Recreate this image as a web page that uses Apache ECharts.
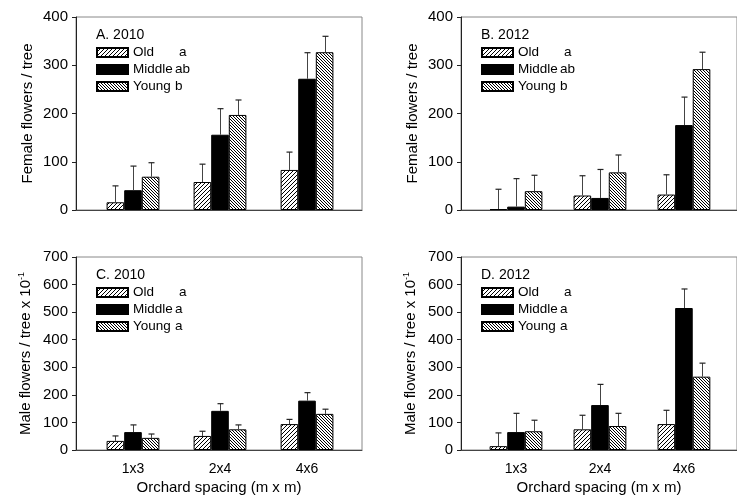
<!DOCTYPE html>
<html><head><meta charset="utf-8">
<script src="https://cdn.jsdelivr.net/npm/echarts@6/dist/echarts.min.js"></script>
<style>html,body{margin:0;padding:0;background:#fff}#c{width:737px;height:501px}</style>
</head><body><div id="c"></div>
<script>
// ---- data ----
const categories = ['1x3', '2x4', '4x6'];
const groups = ['Old', 'Middle', 'Young'];
// Panel A: Female flowers 2010
const femaleOld2010 = [16, 58, 83];
const femaleMiddle2010 = [41, 156, 272];
const femaleYoung2010 = [69, 197, 327];
const femaleOld2010SE = [34, 37, 37];
const femaleMiddle2010SE = [50, 54, 54];
const femaleYoung2010SE = [29, 31, 33];
// Panel B: Female flowers 2012
const femaleOld2012 = [2, 30, 32];
const femaleMiddle2012 = [7, 25, 176];
const femaleYoung2012 = [39, 78, 292];
const femaleOld2012SE = [41, 41, 41];
const femaleMiddle2012SE = [58, 59, 58];
const femaleYoung2012SE = [33, 36, 35];
// Panel C: Male flowers 2010 (x 10^-1)
const maleOld2010 = [33, 51, 94];
const maleMiddle2010 = [65, 142, 179];
const maleYoung2010 = [44, 75, 131];
const maleOld2010SE = [18, 17, 17];
const maleMiddle2010SE = [26, 26, 29];
const maleYoung2010SE = [14, 16, 17];
// Panel D: Male flowers 2012 (x 10^-1)
const maleOld2012 = [14, 75, 94];
const maleMiddle2012 = [65, 163, 515];
const maleYoung2012 = [68, 87, 266];
const maleOld2012SE = [48, 51, 50];
const maleMiddle2012SE = [68, 75, 69];
const maleYoung2012SE = [40, 46, 49];
// tick labels / texts
const femaleTicks = [0, 100, 200, 300, 400];
const maleTicks = [0, 100, 200, 300, 400, 500, 600, 700];
const panelTitles = ['A. 2010', 'B. 2012', 'C. 2010', 'D. 2012'];
const panelLetters = [['a', 'ab', 'b'], ['a', 'ab', 'b'], ['a', 'a', 'a'], ['a', 'a', 'a']];

// ---- styling ----
function makePattern(dir, size) {
  const c = document.createElement('canvas');
  c.width = size; c.height = size;
  const ctx = c.getContext('2d');
  ctx.fillStyle = '#fff'; ctx.fillRect(0, 0, size, size);
  ctx.fillStyle = '#000';
  for (let i = 0; i < size; i++) {
    const y = dir === '/' ? size - 1 - i : i;
    ctx.fillRect(i, y, 1, 1);
  }
  return { image: c, repeat: 'repeat' };
}
const fills = [makePattern('/', 4), '#000', makePattern('\\', 3)];
const FONT = 'Liberation Sans, Arial, sans-serif';
const BARW = 17.6;

const panels = [
  { vals: [femaleOld2010, femaleMiddle2010, femaleYoung2010], se: [femaleOld2010SE, femaleMiddle2010SE, femaleYoung2010SE], ticks: femaleTicks, left: 76, top: 17, bottomRow: false, yname: 'Female flowers / tree' },
  { vals: [femaleOld2012, femaleMiddle2012, femaleYoung2012], se: [femaleOld2012SE, femaleMiddle2012SE, femaleYoung2012SE], ticks: femaleTicks, left: 461, top: 17, bottomRow: false, yname: 'Female flowers / tree' },
  { vals: [maleOld2010, maleMiddle2010, maleYoung2010], se: [maleOld2010SE, maleMiddle2010SE, maleYoung2010SE], ticks: maleTicks, left: 76, top: 257, bottomRow: true, yname: 'Male flowers / tree x 10{s|-1}' },
  { vals: [maleOld2012, maleMiddle2012, maleYoung2012], se: [maleOld2012SE, maleMiddle2012SE, maleYoung2012SE], ticks: maleTicks, left: 461, top: 257, bottomRow: true, yname: 'Male flowers / tree x 10{s|-1}' }
];

const option = { animation: false, backgroundColor: '#fff', grid: [], xAxis: [], yAxis: [], series: [], title: [], legend: [] };

panels.forEach((p, pi) => {
  option.grid.push({ left: p.left, top: p.top, width: 286, height: 193, show: true, borderColor: '#888', borderWidth: 1, backgroundColor: 'transparent' });
  option.xAxis.push({
    type: 'value', gridIndex: pi, min: -0.655, max: 2.632,
    axisLine: { show: true, onZero: false, lineStyle: { color: '#444', width: 1 } },
    axisTick: { show: false }, splitLine: { show: false },
    axisLabel: {
      show: p.bottomRow, customValues: [0, 1, 2], formatter: v => categories[Math.round(v)],
      color: '#000', fontFamily: FONT, fontSize: 14, margin: 12
    },
    name: p.bottomRow ? 'Orchard spacing (m x m)' : '', nameLocation: 'middle', nameGap: 30,
    nameTextStyle: { color: '#000', fontFamily: FONT, fontSize: 15 }
  });
  const ymax = p.ticks[p.ticks.length - 1];
  option.yAxis.push({
    type: 'value', gridIndex: pi, min: 0, max: ymax, interval: 100,
    axisLine: { show: true, onZero: false, lineStyle: { color: '#222', width: 1 } },
    axisTick: { show: true, length: 4, lineStyle: { color: '#222' } },
    splitLine: { show: false },
    axisLabel: { color: '#000', fontFamily: FONT, fontSize: 15, margin: 8 },
    name: p.yname, nameLocation: 'middle', nameGap: 41,
    nameTextStyle: { color: '#000', fontFamily: FONT, fontSize: 15, rich: { s: { fontSize: 9, verticalAlign: 'top', lineHeight: 18, fontFamily: FONT, color: '#000' } } }
  });
  groups.forEach((g, gi) => {
    option.series.push({
      type: 'bar', name: g, xAxisIndex: pi, yAxisIndex: pi,
      data: categories.map((c, ci) => [ci, p.vals[gi][ci]]),
      barWidth: BARW, barGap: '0%',
      itemStyle: { color: fills[gi], borderColor: '#000', borderWidth: 1 },
      z: 2
    });
    const off = (gi - 1) * BARW;
    option.series.push({
      type: 'custom', name: 'err' + pi + g, xAxisIndex: pi, yAxisIndex: pi,
      data: categories.map((c, ci) => [ci, p.vals[gi][ci], p.vals[gi][ci] + p.se[gi][ci]]),
      renderItem: (params, api) => {
        const b = api.coord([api.value(0), api.value(1)]);
        const t = api.coord([api.value(0), api.value(2)]);
        const x = Math.round(b[0] + off) + 0.5;
        return { type: 'group', children: [
          { type: 'line', shape: { x1: x, y1: b[1], x2: x, y2: t[1] }, style: { stroke: '#444', lineWidth: 1 } },
          { type: 'line', shape: { x1: x - 3, y1: t[1], x2: x + 3, y2: t[1] }, style: { stroke: '#222', lineWidth: 1.2 } }
        ] };
      },
      z: 3, silent: true
    });
  });
  option.title.push({
    text: panelTitles[pi], left: p.left + 20, top: p.top + 11, padding: 0,
    textStyle: { fontFamily: FONT, fontSize: 14, fontWeight: 'normal', color: '#000' }
  });
  const letters = panelLetters[pi];
  option.legend.push({
    data: groups, orient: 'vertical', left: p.left + 20, top: p.top + 28.5, padding: 0,
    icon: 'rect', itemWidth: 31, itemHeight: 9, itemGap: 3,
    selectedMode: false,
    formatter: name => {
      const i = groups.indexOf(name);
      return '{' + (i === 0 ? 'o' : 'm') + '|' + name + '}{l|' + letters[i] + '}';
    },
    textStyle: {
      fontFamily: FONT, fontSize: 13.5, color: '#000',
      rich: {
        o: { width: 46, fontFamily: FONT, fontSize: 13.5, lineHeight: 14, color: '#000' },
        m: { width: 42, fontFamily: FONT, fontSize: 13.5, lineHeight: 14, color: '#000' },
        l: { fontFamily: FONT, fontSize: 13.5, lineHeight: 14, color: '#000', verticalAlign: 'top' }
      }
    }
  });
});

const chart = echarts.init(document.getElementById('c'), null, { renderer: 'canvas' });
chart.setOption(option);
</script></body></html>
